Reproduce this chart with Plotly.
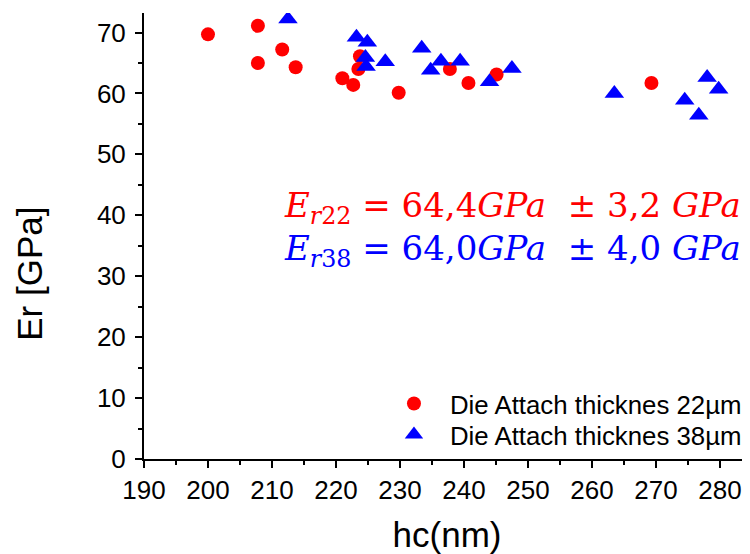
import plotly.graph_objects as go

# Die attach 22 µm (red circles)
hc_22 = [200.0, 207.8, 207.8, 211.6, 213.7, 221.0, 222.7, 223.5, 223.75, 229.8, 237.8, 240.7, 245.1, 269.3]
er_22 = [69.7, 71.1, 65.0, 67.2, 64.3, 62.5, 61.4, 64.0, 66.1, 60.1, 64.0, 61.7, 63.1, 61.7]

# Die attach 38 µm (blue triangles)
hc_38 = [212.5, 223.2, 224.9, 224.6, 224.7, 227.7, 233.4, 234.8, 236.4, 239.4, 244.0, 247.5, 263.5, 274.5, 276.7, 278.0, 279.8]
er_38 = [72.2, 69.2, 68.4, 65.9, 64.4, 65.2, 67.4, 63.8, 65.3, 65.3, 61.9, 64.1, 60.0, 58.9, 56.4, 62.6, 60.7]

x_ticks = list(range(190, 290, 10))
y_ticks = list(range(0, 80, 10))

FONT = "Liberation Sans, Arial, sans-serif"
MATH = "DejaVu Serif, serif"

fig = go.Figure()
fig.add_trace(go.Scatter(
    x=hc_22, y=er_22, mode="markers", name="Die Attach thicknes 22µm",
    marker=dict(symbol="circle", size=14, color="#FF0000", line=dict(width=0)),
    legend="legend",
))
fig.add_trace(go.Scatter(
    x=hc_38, y=er_38, mode="markers", name="Die Attach thicknes 38µm",
    marker=dict(symbol="triangle-up", size=17, color="#0000FF", line=dict(width=0)),
    legend="legend2",
))

legend_style = dict(xanchor="right", x=0.995, yanchor="middle",
                    bgcolor="rgba(0,0,0,0)", font=dict(size=25.8, family=FONT),
                    itemwidth=62)

fig.update_layout(
    width=742, height=546,
    margin=dict(l=136, r=0, t=5, b=95, autoexpand=False),
    paper_bgcolor="white", plot_bgcolor="white",
    font=dict(family=FONT, size=25, color="black"),
    showlegend=True,
    legend=dict(y=0.124, **legend_style),
    legend2=dict(y=0.0544, **legend_style),
    xaxis=dict(
        range=[190, 284.7], tickvals=x_ticks, ticktext=[str(v) for v in x_ticks],
        showgrid=False, zeroline=False, showline=True, linecolor="black", linewidth=2,
        ticks="outside", ticklen=7, tickwidth=1.5, tickcolor="black",
        minor=dict(dtick=5, ticks="outside", ticklen=4, tickwidth=1.5, tickcolor="black"),
        title=dict(text="hc(nm)", font=dict(size=35, family=FONT), standoff=20),
        tickfont=dict(size=26, family=FONT),
    ),
    yaxis=dict(
        range=[0, 73.2], tickvals=y_ticks, ticktext=[str(v) for v in y_ticks],
        showgrid=False, zeroline=False, showline=True, linecolor="black", linewidth=2,
        ticks="outside", ticklen=7, tickwidth=1.5, tickcolor="black",
        minor=dict(dtick=5, ticks="outside", ticklen=4, tickwidth=1.5, tickcolor="black"),
        ticklabelstandoff=4,
        tickfont=dict(size=26, family=FONT),
    ),
)

# y-axis title (placed lower than centre, as in the reference)
fig.add_annotation(
    xref="paper", yref="y", x=0, y=30.4, xanchor="center", yanchor="middle",
    xshift=-114, showarrow=False, textangle=-90,
    text="Er [GPa]", font=dict(size=35, family=FONT, color="black"),
)

fig.add_annotation(
    xref="paper", yref="y", x=0.988, y=41.3, xanchor="right", yanchor="middle",
    showarrow=False,
    text="<i>E</i><sub><i>r</i>22</sub> = 64,4<i>GPa</i>  ± 3,2 <i>GPa</i>",
    font=dict(family=MATH, size=34, color="#FF0000"),
)
fig.add_annotation(
    xref="paper", yref="y", x=0.988, y=34.2, xanchor="right", yanchor="middle",
    showarrow=False,
    text="<i>E</i><sub><i>r</i>38</sub> = 64,0<i>GPa</i>  ± 4,0 <i>GPa</i>",
    font=dict(family=MATH, size=34, color="#0000FF"),
)

fig.write_html("out.html")
